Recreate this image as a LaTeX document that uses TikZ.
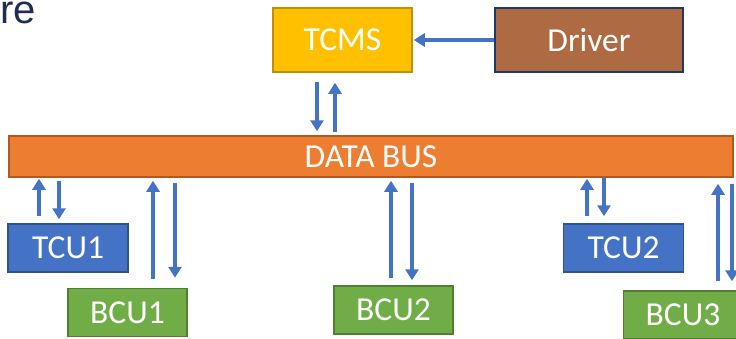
\documentclass[tikz,border=0pt]{standalone}
\usepackage{fontspec}
\setmainfont{Carlito}
\newfontfamily\titlefont{Liberation Sans}
\usetikzlibrary{arrows.meta,calc}
\definecolor{tcmsYellow}{HTML}{FFC000}
\definecolor{tcmsEdge}{HTML}{BF9000}
\definecolor{driverBrown}{HTML}{AE6A42}
\definecolor{driverEdge}{HTML}{1F3864}
\definecolor{busOrange}{HTML}{ED7D31}
\definecolor{busEdge}{HTML}{AE5A21}
\definecolor{unitBlue}{HTML}{4472C4}
\definecolor{unitBlueEdge}{HTML}{2F528F}
\definecolor{unitGreen}{HTML}{70AD47}
\definecolor{unitGreenEdge}{HTML}{507E32}
\definecolor{titleNavy}{HTML}{1F2D50}

\begin{document}
\begin{tikzpicture}[
  x=1pt, y=-1pt,
  font=\fontsize{33.5}{40}\selectfont,
  box/.style={draw, line width=1.5pt, text=white, inner sep=0pt},
  tcmsbox/.style={box, fill=tcmsYellow, draw=tcmsEdge, minimum width=139pt, minimum height=64pt},
  driverbox/.style={box, fill=driverBrown, draw=driverEdge, minimum width=188pt, minimum height=64pt},
  busbox/.style={box, fill=busOrange, draw=busEdge, minimum width=724pt, minimum height=41pt},
  tcubox/.style={box, fill=unitBlue, draw=unitBlueEdge, minimum width=120pt, minimum height=48pt},
  bcubox/.style={box, fill=unitGreen, draw=unitGreenEdge, minimum width=119pt, minimum height=48pt},
  link/.style={-{Triangle[width=13pt,length=11pt]}, line width=4pt, draw=unitBlue}
]
\clip (0,0) rectangle (736,338);

\node[anchor=base west, text=titleNavy, font=\titlefont\fontsize{40}{46}\selectfont] (title) at (-3,23) {re};

\node[tcmsbox] (tcms) at (342.5,40) {TCMS};
\node[driverbox] (driver) at (589,40) {Driver};
\node[busbox] (bus) at (371,156.5) {DATA BUS};

\node[tcubox] (tcu1) at (68,248) {TCU1};
\node[tcubox] (tcu2) at (623.5,248) {TCU2};
\node[bcubox] (bcu1) at (127.5,312.5) {BCU1};
\node[bcubox] (bcu2) at (393.5,310) {BCU2};
\node[bcubox] (bcu3) at (683,315) {BCU3};

% driver and tcms
\draw[link] (driver.west) -- ($(tcms.east)+(1,0)$);
\draw[link] ($(tcms.south)+(-25.5,9)$) -- ($(tcms.south |- bus.north)+(-25.5,-4)$);
\draw[link] ($(tcms.south |- bus.north)+(-7.5,-3)$) -- ($(tcms.south)+(-7.5,10)$);

% units to the bus and back
\draw[link] ($(tcu1.north)+(-29,-7)$) -- ($(tcu1.north |- bus.south)+(-29,1)$);
\draw[link] ($(tcu1.north |- bus.south)+(-9,3)$) -- ($(tcu1.north)+(-9,-4)$);

\draw[link] ($(bcu1.north)+(25.5,-9)$) -- ($(bcu1.north |- bus.south)+(25.5,3)$);
\draw[link] ($(bcu1.north |- bus.south)+(47.5,5)$) -- ($(bcu1.north)+(47.5,-10)$);

\draw[link] ($(bcu2.north)+(-2.5,-7)$) -- ($(bcu2.north |- bus.south)+(-2.5,3)$);
\draw[link] ($(bcu2.north |- bus.south)+(18.5,5)$) -- ($(bcu2.north)+(18.5,-5)$);

\draw[link] ($(tcu2.north)+(-36.5,-7)$) -- ($(tcu2.north |- bus.south)+(-36.5,1)$);
\draw[link] ($(tcu2.north |- bus.south)+(-19.5,0)$) -- ($(tcu2.north)+(-19.5,-7)$);

\draw[link] ($(bcu3.north)+(35,-9)$) -- ($(bcu3.north |- bus.south)+(35,6)$);
\draw[link] ($(bcu3.north |- bus.south)+(49,6)$) -- ($(bcu3.north)+(49,-9)$);
\end{tikzpicture}
\end{document}
